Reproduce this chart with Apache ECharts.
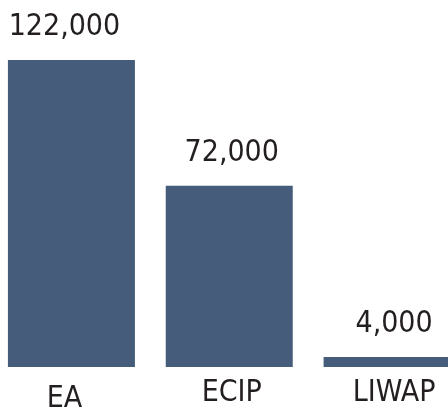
<!DOCTYPE html>
<html>
<head>
<meta charset="utf-8">
<script src="https://cdn.jsdelivr.net/npm/echarts@6/dist/echarts.min.js"></script>
<style>
  html, body { margin: 0; padding: 0; background: #fff; overflow: hidden; }
  body { width: 448px; height: 414px; position: relative; }
  #chart { position: absolute; left: -8px; top: 0; width: 474px; height: 414px; }
</style>
</head>
<body>
<div id="chart"></div>
<script>
const categories = ['EA', 'ECIP', 'LIWAP'];
const values = [122000, 72000, 4000];

// labels in the original sit slightly off the bar centres
const labelShift = [-7, 2.5, 7];

const font = "'Liberation Sans Narrow', 'DejaVu Sans Condensed', sans-serif";
const textColor = '#231f20';

const myChart = echarts.init(document.getElementById('chart'));
let option;

const seriesData = values.map(function (v, i) {
  return { value: v, label: { offset: [labelShift[i], 0] } };
});

option = {
  animation: false,
  grid: {
    left: 0.5,
    right: 0,
    top: 60,
    bottom: 43
  },
  xAxis: {
    type: 'category',
    data: categories,
    axisLine: { show: false },
    axisTick: { show: false },
    axisLabel: {
      interval: 0,
      margin: 11,
      color: textColor,
      fontFamily: font,
      fontSize: 30,
      formatter: function (v, i) {
        return '{c' + i + '|' + v + '}';
      },
      rich: {
        c0: { fontFamily: font, fontSize: 30, color: textColor, padding: [6, 14, 0, 0] },
        c1: { fontFamily: font, fontSize: 30, color: textColor, padding: [0, 0, 0, 5] },
        c2: { fontFamily: font, fontSize: 30, color: textColor, padding: [0, 0, 0, 14] }
      }
    }
  },
  yAxis: {
    type: 'value',
    min: 0,
    max: 122000,
    show: false
  },
  series: [
    {
      type: 'bar',
      data: seriesData,
      barWidth: 127,
      itemStyle: { color: '#455d7a' },
      label: {
        show: true,
        position: 'top',
        distance: 18,
        color: textColor,
        fontFamily: font,
        fontSize: 30,
        formatter: function (p) {
          return p.value.toLocaleString('en-US');
        }
      }
    }
  ]
};

option && myChart.setOption(option);
</script>
</body>
</html>
